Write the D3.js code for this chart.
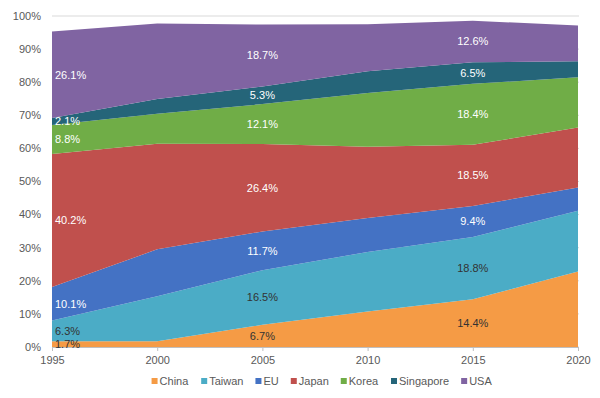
<!DOCTYPE html>
<html>
<head>
<meta charset="utf-8">
<script src="https://cdn.jsdelivr.net/npm/d3@7"></script>
<style>
  body { margin: 0; background: #fff; }
  svg { display: block; font-family: "Liberation Sans", Arial, sans-serif; }
</style>
</head>
<body>
<div class="chart"></div>
<script>
// Data (share in %)
const years = [1995, 2000, 2005, 2010, 2015, 2020];
const china = [1.7, 1.7, 6.7, 10.7, 14.4, 22.8];
const taiwan = [6.3, 13.6, 16.5, 18.0, 18.8, 18.4];
const eu = [10.1, 14.2, 11.7, 10.3, 9.4, 7.0];
const japan = [40.2, 31.9, 26.4, 21.5, 18.5, 18.1];
const korea = [8.8, 9.1, 12.1, 16.2, 18.4, 15.2];
const singapore = [2.1, 4.4, 5.3, 6.6, 6.5, 4.8];
const usa = [26.1, 22.8, 18.7, 14.2, 12.6, 10.8];

const seriesNames = ["China", "Taiwan", "EU", "Japan", "Korea", "Singapore", "USA"];
const seriesValues = [china, taiwan, eu, japan, korea, singapore, usa];
const yTicks = [0, 10, 20, 30, 40, 50, 60, 70, 80, 90, 100];
const labelYears = [1995, 2005, 2015]; // years that carry value labels

const colors = {
  China: "#F59B45",
  Taiwan: "#4BACC6",
  EU: "#4472C4",
  Japan: "#C0504D",
  Korea: "#70AD47",
  Singapore: "#256579",
  USA: "#8064A2",
};
const darkLabel = new Set(["China", "Taiwan"]);

const width = 600, height = 398;
const margin = { top: 16, right: 22, bottom: 51, left: 52 };

// build table for d3.stack
const table = years.map((y, i) => {
  const row = { year: y };
  seriesNames.forEach((n, k) => { row[n] = seriesValues[k][i]; });
  return row;
});

const svg = d3.select(".chart").append("svg")
  .attr("width", width)
  .attr("height", height);

const x = d3.scaleLinear()
  .domain([years[0], years[years.length - 1]])
  .range([margin.left, width - margin.right]);
const y = d3.scaleLinear()
  .domain([0, 100])
  .range([height - margin.bottom, margin.top]);

// gridlines
svg.append("g")
  .selectAll("line")
  .data(yTicks)
  .join("line")
  .attr("x1", x.range()[0])
  .attr("x2", x.range()[1] + 1)
  .attr("y1", d => y(d))
  .attr("y2", d => y(d))
  .attr("stroke", "#d9d9d9")
  .attr("stroke-width", 1);

// y labels
svg.append("g")
  .selectAll("text")
  .data(yTicks)
  .join("text")
  .attr("x", margin.left - 11)
  .attr("y", d => y(d))
  .attr("dy", "0.35em")
  .attr("text-anchor", "end")
  .attr("font-size", 11)
  .attr("fill", "#595959")
  .text(d => d + "%");

// stacked areas
const stacked = d3.stack().keys(seriesNames)(table);
const area = d3.area()
  .x(d => x(d.data.year))
  .y0(d => y(d[0]))
  .y1(d => y(d[1]));

svg.append("g")
  .selectAll("path")
  .data(stacked)
  .join("path")
  .attr("fill", d => colors[d.key])
  .attr("d", area);

// x axis
const xAxis = svg.append("g")
  .attr("transform", `translate(0,${y(0)})`)
  .call(d3.axisBottom(x).tickValues(years).tickFormat(d3.format("d")).tickSize(4).tickSizeOuter(0));
xAxis.select(".domain").attr("stroke", "#bfbfbf");
xAxis.selectAll(".tick line").attr("stroke", "#bfbfbf");
xAxis.selectAll(".tick text")
  .attr("font-family", "Liberation Sans, Arial, sans-serif")
  .attr("font-size", 11)
  .attr("fill", "#595959")
  .attr("y", 9);

// value labels
const labels = [];
stacked.forEach(s => {
  s.forEach(d => {
    if (labelYears.includes(d.data.year)) {
      labels.push({ key: s.key, year: d.data.year, mid: (d[0] + d[1]) / 2, value: d.data[s.key] });
    }
  });
});

svg.append("g")
  .selectAll("text")
  .data(labels)
  .join("text")
  .attr("x", d => d.year === years[0] ? x(d.year) + 3 : x(d.year))
  .attr("y", d => y(d.mid))
  .attr("dy", "0.35em")
  .attr("text-anchor", d => d.year === years[0] ? "start" : "middle")
  .attr("font-size", 11)
  .attr("fill", d => darkLabel.has(d.key) ? "#333333" : "#ffffff")
  .text(d => d.value.toFixed(1) + "%");

// legend
const legend = svg.append("g").attr("transform", `translate(0,381)`);
let lx = 0;
const items = legend.selectAll("g")
  .data(seriesNames)
  .join("g");
items.append("rect")
  .attr("y", -3)
  .attr("width", 6)
  .attr("height", 6)
  .attr("fill", d => colors[d]);
items.append("text")
  .attr("x", 8)
  .attr("dy", "0.35em")
  .attr("font-size", 11)
  .attr("fill", "#595959")
  .text(d => d);
items.each(function () {
  const w = this.getBBox().width;
  d3.select(this).attr("transform", `translate(${lx},0)`);
  lx += w + 12;
});
const legendWidth = lx - 12;
legend.attr("transform", `translate(${322 - legendWidth / 2},381)`);
</script>
</body>
</html>
